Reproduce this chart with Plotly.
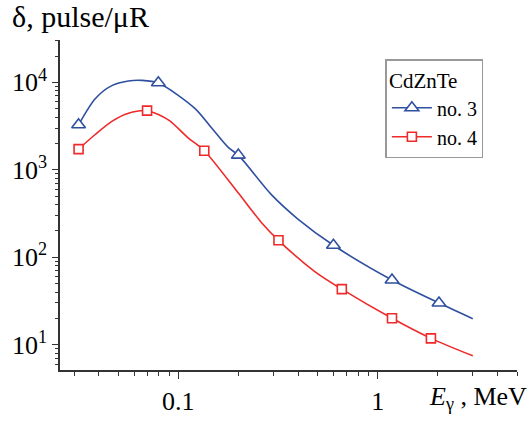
import numpy as np
import plotly.graph_objects as go

# ---- data ----
# smooth curve for sample no. 3 (energy MeV, pulse/uR)
curve3_x = [0.0316, 0.0383, 0.0464, 0.0562, 0.0656, 0.0794, 0.121, 0.147, 0.178, 0.2, 0.293, 0.398, 0.60, 1.18, 2.03, 3.0]
curve3_y = [3270, 6500, 9170, 10350, 10520, 9820, 5040, 3000, 1800, 1470, 519, 273, 137, 54.8, 29.9, 19.8]
# smooth curve for sample no. 4
curve4_x = [0.0316, 0.0383, 0.0464, 0.0562, 0.0697, 0.0891, 0.112, 0.135, 0.2, 0.261, 0.318, 0.482, 0.661, 1.18, 1.85, 3.0]
curve4_y = [1720, 2530, 3575, 4430, 4740, 3725, 2320, 1650, 541, 250, 156, 69, 43.1, 20, 11.8, 7.45]
# measured points
pts3_x = [0.0316, 0.0794, 0.2, 0.60, 1.18, 2.03]
pts3_y = [3270, 9900, 1470, 137, 54.8, 29.9]
pts4_x = [0.0316, 0.0697, 0.135, 0.318, 0.661, 1.18, 1.85]
pts4_y = [1720, 4740, 1650, 156, 43.1, 20, 11.8]

legend_title = "CdZnTe"
names = ["no. 3", "no. 4"]
x_ticks = [0.1, 1]
x_ticktext = ["0.1", "1"]
x_minor = [0.03, 0.04, 0.05, 0.06, 0.07, 0.08, 0.09, 0.2, 0.3, 0.4, 0.5, 0.6, 0.7, 0.8, 0.9, 2, 3, 4, 5]
y_ticks = [10, 100, 1000, 10000]
y_ticktext = ["10<sup>1</sup>", "10<sup>2</sup>", "10<sup>3</sup>", "10<sup>4</sup>"]
y_minor = [6, 7, 8, 9, 20, 30, 40, 50, 60, 70, 80, 90, 200, 300, 400, 500, 600, 700, 800, 900,
           2000, 3000, 4000, 5000, 6000, 7000, 8000, 9000, 20000, 30000]

BLUE = "#2f4f9f"
RED = "#ee2a2a"
FONT = "'Liberation Serif', 'Times New Roman', 'DejaVu Serif', serif"

fig = go.Figure()
fig.add_trace(go.Scatter(x=curve3_x, y=curve3_y, mode="lines", line=dict(color=BLUE, width=1.6, shape="spline", smoothing=0.8),
                         showlegend=False, hoverinfo="skip"))
fig.add_trace(go.Scatter(x=curve4_x, y=curve4_y, mode="lines", line=dict(color=RED, width=1.6, shape="spline", smoothing=0.8),
                         showlegend=False, hoverinfo="skip"))
fig.add_trace(go.Scatter(x=pts3_x, y=pts3_y, mode="markers", showlegend=False,
                         marker=dict(symbol="triangle-up", size=12, color="white", line=dict(color=BLUE, width=1.6))))
fig.add_trace(go.Scatter(x=pts4_x, y=pts4_y, mode="markers", showlegend=False,
                         marker=dict(symbol="square", size=9, color="white", line=dict(color=RED, width=1.6))))
# legend entries
fig.add_trace(go.Scatter(x=[None], y=[None], mode="lines+markers", name=names[0],
                         line=dict(color=BLUE, width=1.6),
                         marker=dict(symbol="triangle-up", size=12, color="white", line=dict(color=BLUE, width=1.6))))
fig.add_trace(go.Scatter(x=[None], y=[None], mode="lines+markers", name=names[1],
                         line=dict(color=RED, width=1.6),
                         marker=dict(symbol="square", size=9, color="white", line=dict(color=RED, width=1.6))))

fig.update_layout(
    width=530, height=428,
    margin=dict(l=58, r=13, t=40, b=50),
    paper_bgcolor="white", plot_bgcolor="white",
    font=dict(family=FONT, size=22, color="black"),
    showlegend=True,
    legend=dict(x=0.712, y=0.941, xanchor="left", yanchor="top",
                bordercolor="#999999", borderwidth=1.5, bgcolor="white",
                title=dict(text=legend_title, font=dict(family=FONT, size=21)),
                font=dict(family=FONT, size=20), itemwidth=40, tracegroupgap=0),
)
fig.update_xaxes(type="log", range=[np.log10(0.0255), np.log10(5)],
                 tickmode="array", tickvals=x_ticks, ticktext=x_ticktext,
                 ticks="outside", ticklen=7, tickwidth=1.3, tickcolor="#333",
                 minor=dict(tickmode="array", tickvals=x_minor, ticks="outside", ticklen=4, tickwidth=1.3, tickcolor="#333", showgrid=False),
                 showline=True, linecolor="#333", linewidth=1.5, showgrid=False, zeroline=False,
                 tickfont=dict(family=FONT, size=26))
fig.update_yaxes(type="log", range=[0.71, 4.484],
                 tickmode="array", tickvals=y_ticks, ticktext=y_ticktext,
                 ticks="outside", ticklen=6, tickwidth=1.3, tickcolor="#333",
                 minor=dict(tickmode="array", tickvals=y_minor, ticks="outside", ticklen=3.5, tickwidth=1.3, tickcolor="#333", showgrid=False),
                 showline=True, linecolor="#333", linewidth=1.5, showgrid=False, zeroline=False,
                 tickfont=dict(family=FONT, size=26))

fig.add_annotation(text="δ, pulse/μR", xref="paper", yref="paper", x=-0.11, y=1.0, yshift=42,
                   xanchor="left", yanchor="top", showarrow=False, font=dict(family=FONT, size=30))
fig.add_annotation(text="<i>E</i><sub>γ</sub> , MeV", xref="paper", yref="paper", x=1.0, y=0, xshift=12, yshift=-10,
                   xanchor="right", yanchor="top", showarrow=False, font=dict(family=FONT, size=26))

fig.write_html("out.html")
